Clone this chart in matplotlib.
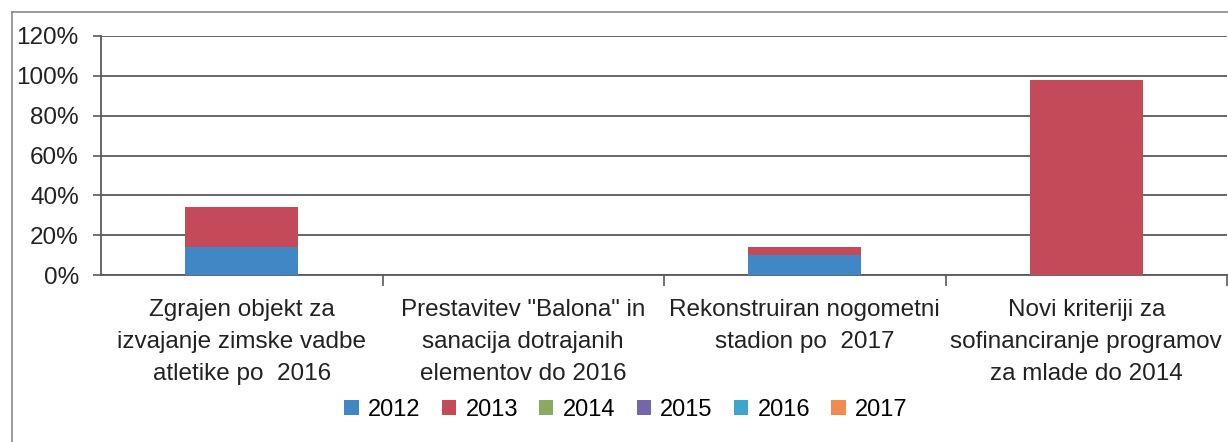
import numpy as np
import matplotlib.pyplot as plt
from matplotlib.lines import Line2D

plt.rcParams['font.family'] = ['Liberation Sans', 'DejaVu Sans']

categories = [
    'Zgrajen objekt za\nizvajanje zimske vadbe\natletike po  2016',
    'Prestavitev "Balona" in\nsanacija dotrajanih\nelementov do 2016',
    'Rekonstruiran nogometni\nstadion po  2017',
    'Novi kriteriji za\nsofinanciranje programov\nza mlade do 2014',
]
years = ['2012', '2013', '2014', '2015', '2016', '2017']
v2012 = [14, 0, 10, 0]
v2013 = [20, 0, 4, 98]
v2014 = [0, 0, 0, 0]
v2015 = [0, 0, 0, 0]
v2016 = [0, 0, 0, 0]
v2017 = [0, 0, 0, 0]
series = [v2012, v2013, v2014, v2015, v2016, v2017]
colors = ['#3f88c5', '#c44a5a', '#8aab5e', '#7466a8', '#3ea6cc', '#f28b50']
yticks = [0, 20, 40, 60, 80, 100, 120]

fig = plt.figure(figsize=(12.28, 4.42), dpi=100)
ax = fig.add_axes([101 / 1228, 167 / 442, 1126 / 1228, 239 / 442])

x = np.arange(len(categories))
bottom = np.zeros(len(categories))
handles = []
for name, vals, c in zip(years, series, colors):
    vals = np.array(vals, dtype=float)
    b = ax.bar(x, vals, 0.4, bottom=bottom, color=c, label=name, zorder=3)
    handles.append(b)
    bottom += vals

ax.set_xlim(-0.5, 3.5)
ax.set_ylim(0, 120)
ax.set_yticks(yticks)
ax.set_yticklabels(['{}%'.format(t) for t in yticks], fontsize=17.5, color='#222222')
ax.yaxis.grid(True, color='#5a5a5a', linewidth=1.3, zorder=0)
ax.tick_params(axis='y', length=6, width=1.2, color='#5a5a5a', pad=10)

ax.set_xticks(x)
ax.set_xticklabels(categories, fontsize=17.5, color='#222222', linespacing=1.6)
ax.tick_params(axis='x', which='major', length=0, pad=17)
ax.set_xticks(np.arange(0.5, 4, 1), minor=True)
ax.tick_params(axis='x', which='minor', length=8, width=1.2, color='#5a5a5a')

for s in ['top', 'right']:
    ax.spines[s].set_visible(False)
for s in ['left', 'bottom']:
    ax.spines[s].set_color('#5a5a5a')
    ax.spines[s].set_linewidth(1.3)

fig.legend(handles=handles, loc='center', bbox_to_anchor=(626 / 1228, 1 - 410 / 442),
           ncol=6, frameon=False, fontsize=17, handlelength=0.6, handleheight=0.6,
           handletextpad=0.4, columnspacing=0.9)

# outer chart border (top and left visible in the scan)
fig.add_artist(Line2D([12 / 1228, 1], [1 - 12 / 442, 1 - 12 / 442], color='#8a8a8a', linewidth=1.2))
fig.add_artist(Line2D([12 / 1228, 12 / 1228], [0, 1 - 12 / 442], color='#8a8a8a', linewidth=1.2))

fig.savefig('out.png', dpi=100)
